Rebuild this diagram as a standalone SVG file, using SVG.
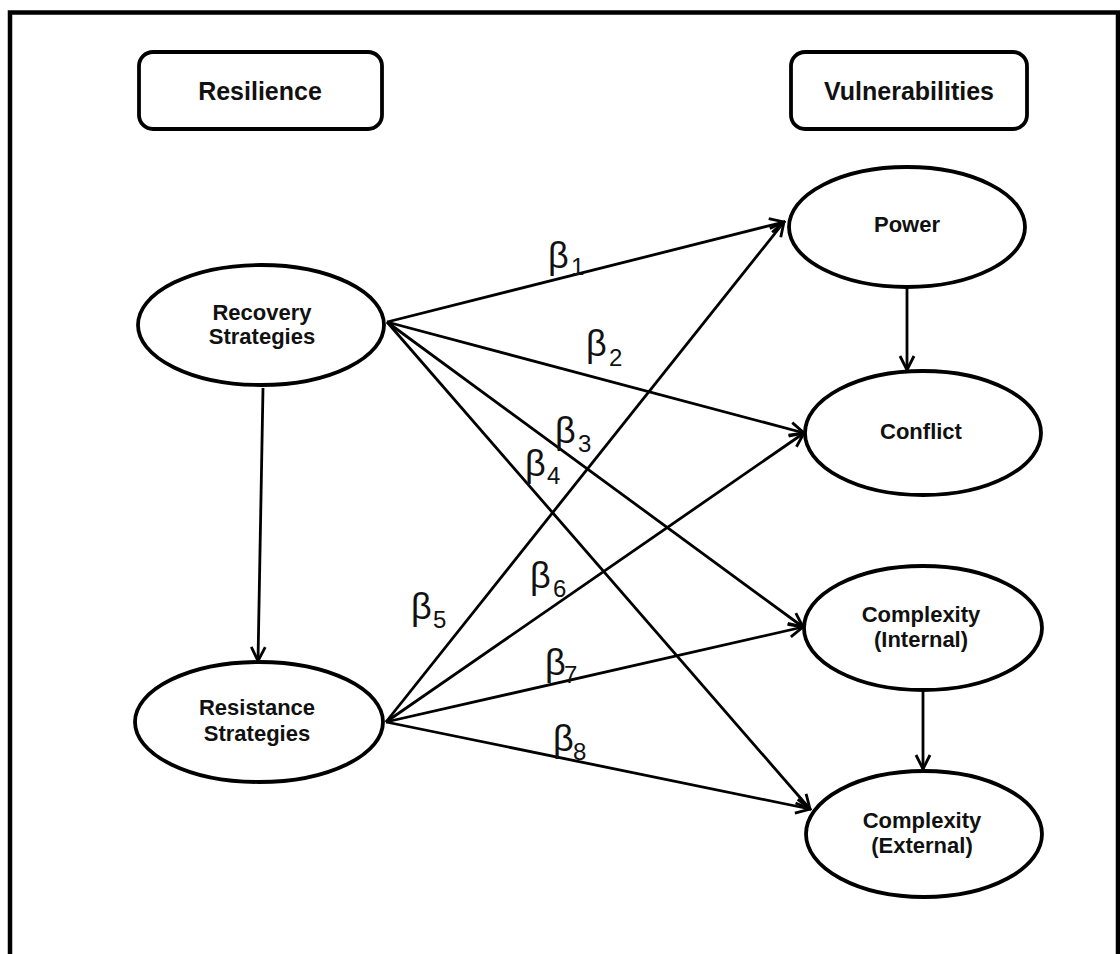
<svg xmlns="http://www.w3.org/2000/svg" width="1120" height="954" viewBox="0 0 1120 954">
<style>
.node{fill:#fff;stroke:#000;stroke-width:3.8}
.lbl{font-family:"Liberation Sans",Arial,sans-serif;font-weight:bold;font-size:22px;fill:#111;text-anchor:middle}
.hdr{font-family:"Liberation Sans",Arial,sans-serif;font-weight:bold;font-size:25px;fill:#111;text-anchor:middle}
.edge{stroke:#000;stroke-width:2.8;fill:none;marker-end:url(#arr)}
.b{font-family:"Liberation Sans",Arial,sans-serif;font-size:36px;fill:#111}
.s{font-family:"Liberation Sans",Arial,sans-serif;font-size:24px;fill:#111}
</style>
<defs>
<marker id="arr" viewBox="-17 -10 19 20" refX="0" refY="0" markerWidth="19" markerHeight="20" markerUnits="userSpaceOnUse" orient="auto">
<path d="M-14,-7 L0,0 L-14,7" fill="none" stroke="#000" stroke-width="2.8"/>
</marker>
</defs>
<rect x="0" y="0" width="1120" height="954" fill="#fff"/>
<rect x="10" y="12.5" width="1108" height="1000" fill="none" stroke="#000" stroke-width="4.5"/>

<g id="connectors">
<line class="edge" x1="387" y1="322" x2="784" y2="222"/>
<line class="edge" x1="387" y1="322" x2="804" y2="433"/>
<line class="edge" x1="387" y1="322" x2="803" y2="627"/>
<line class="edge" x1="387" y1="322" x2="810" y2="809"/>
<line class="edge" x1="386" y1="722" x2="784" y2="222"/>
<line class="edge" x1="386" y1="722" x2="804" y2="433"/>
<line class="edge" x1="386" y1="722" x2="803" y2="627"/>
<line class="edge" x1="386" y1="722" x2="810" y2="809"/>
<line class="edge" x1="263" y1="388" x2="258" y2="661"/>
<line class="edge" x1="907" y1="288" x2="907" y2="370"/>
<line class="edge" x1="923" y1="692" x2="923" y2="769"/>
</g>

<g id="labels">
<text class="b" x="548" y="268">β</text><text class="s" x="571" y="275">1</text>
<text class="b" x="586" y="356">β</text><text class="s" x="609" y="366">2</text>
<text class="b" x="555" y="443">β</text><text class="s" x="578" y="452">3</text>
<text class="b" x="525" y="476">β</text><text class="s" x="547" y="484">4</text>
<text class="b" x="411" y="619">β</text><text class="s" x="433" y="628">5</text>
<text class="b" x="530" y="588">β</text><text class="s" x="553" y="597">6</text>
<text class="b" x="545" y="675">β</text><text class="s" x="564" y="683">7</text>
<text class="b" x="553" y="751">β</text><text class="s" x="573" y="760">8</text>
</g>

<g id="resilience">
<rect class="node" x="139" y="52" width="243" height="77" rx="14"/>
<text class="hdr" x="260" y="100">Resilience</text>
</g>
<g id="vulnerabilities">
<rect class="node" x="791" y="52" width="236" height="77" rx="14"/>
<text class="hdr" x="909" y="100">Vulnerabilities</text>
</g>
<g id="recovery">
<ellipse class="node" cx="261" cy="325" rx="123" ry="60"/>
<text class="lbl" x="262" y="320">Recovery</text>
<text class="lbl" x="262" y="344">Strategies</text>
</g>
<g id="resistance">
<ellipse class="node" cx="259" cy="722" rx="124" ry="60"/>
<text class="lbl" x="257" y="715">Resistance</text>
<text class="lbl" x="257" y="741">Strategies</text>
</g>
<g id="power">
<ellipse class="node" cx="907" cy="227" rx="118" ry="60"/>
<text class="lbl" x="907" y="232">Power</text>
</g>
<g id="conflict">
<ellipse class="node" cx="923" cy="433" rx="118" ry="62"/>
<text class="lbl" x="921" y="439">Conflict</text>
</g>
<g id="complexity-internal">
<ellipse class="node" cx="923" cy="628" rx="119" ry="62"/>
<text class="lbl" x="921" y="622">Complexity</text>
<text class="lbl" x="921" y="647">(Internal)</text>
</g>
<g id="complexity-external">
<ellipse class="node" cx="924" cy="834" rx="118" ry="63"/>
<text class="lbl" x="922" y="828">Complexity</text>
<text class="lbl" x="922" y="853">(External)</text>
</g>
</svg>
